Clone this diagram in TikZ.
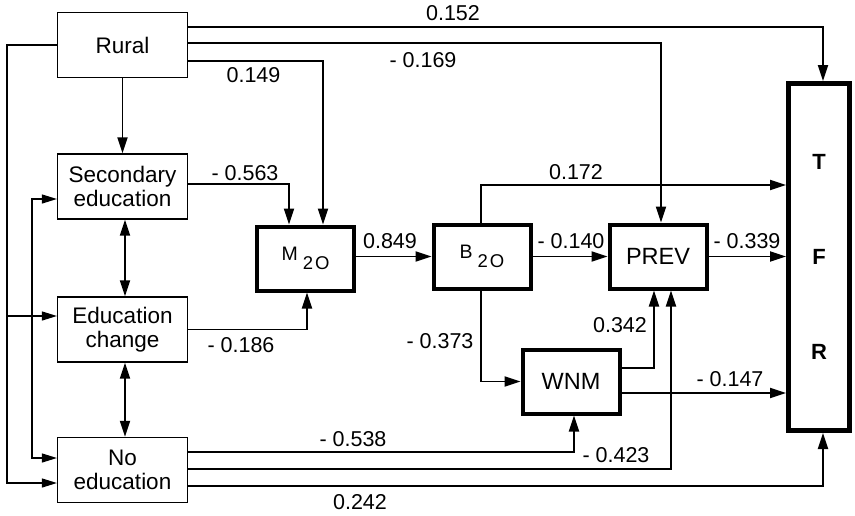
\documentclass[tikz,border=0pt]{standalone}
\usepackage{fontspec}
\setmainfont{Liberation Sans}
\usetikzlibrary{arrows.meta,calc}
\begin{document}
\begin{tikzpicture}[x=1pt,y=-1pt,
  font=\fontsize{21.5}{24}\selectfont,
  thinbox/.style={draw,line width=1.2pt,inner sep=0pt,minimum width=130pt,minimum height=65pt,align=center,font=\fontsize{22.5}{24}\selectfont},
  thickbox/.style={draw,line width=4pt,inner sep=0pt,minimum width=97pt,minimum height=64pt,align=center,font=\fontsize{23.5}{24}\selectfont},
  tfrbox/.style={draw,line width=5pt,inner sep=0pt,minimum width=61pt,minimum height=347pt,align=center,font=\fontsize{22}{95}\selectfont\bfseries},
  arr/.style={line width=1.8pt,-{Triangle[length=16pt,width=10pt]}},
  arrb/.style={line width=1.8pt,{Triangle[length=16pt,width=10pt]}-{Triangle[length=16pt,width=10pt]}},
  arrthin/.style={line width=1.2pt,-{Triangle[length=15pt,width=9pt]}},
  arrthinb/.style={line width=1.2pt,{Triangle[length=15pt,width=9pt]}-{Triangle[length=15pt,width=9pt]}},
  lab/.style={inner sep=0pt}
]
\useasboundingbox (0,0) rectangle (855,515);
\newcommand{\subtwoO}[1]{{\fontsize{19.5}{20}\selectfont #1\hspace{5pt}\raisebox{-8.5pt}{\fontsize{18.5}{20}\selectfont 2\hspace{2pt}O}}}

% nodes
\node[thinbox] (rural) at (122.5,45) {Rural};
\node[thinbox] (sec) at (122.5,186.5) {Secondary\\education};
\node[thinbox] (edu) at (122.5,329.5) {Education\\change};
\node[thinbox] (noed) at (122.5,470) {No\\education};
\node[thickbox] (m2o) at (305.5,258.5) {\subtwoO{M}};
\node[thickbox] (b2o) at (482,256.5) {\subtwoO{B}};
\node[thickbox] (prev) at (658,256.5) {PREV};
\node[thickbox] (wnm) at (571,381.5) {WNM};
\node[tfrbox] (tfr) at (819,257) {T\\F\\R};

% helper coordinates
\coordinate (xo) at (7,0);
\coordinate (xi) at (32,0);
\coordinate (noedA) at ([yshift=-13pt]noed.west);
\coordinate (eduA) at ([yshift=13.5pt]edu.west);
\coordinate (secA) at ([yshift=-12.5pt]sec.west);
\coordinate (noedB) at ([yshift=12pt]noed.west);
\coordinate (wA) at ([yshift=-11.5pt]wnm.east);

% connectors from Rural
\draw[arr] ([yshift=18pt]rural.east) -| ([xshift=4pt]tfr.north);
\draw[arr] ([yshift=2pt]rural.east) -| ([xshift=3pt]prev.north);
\draw[arr] ([yshift=-16pt]rural.east) -| ([xshift=17.5pt]m2o.north);
\draw[arr] (rural.south) -- (sec.north);

% education block
\draw[arr] ([yshift=2.5pt]sec.east) -| ([xshift=-16.5pt]m2o.north);
\draw[arr] (edu.east) -| ([xshift=1.5pt]m2o.south);
\draw[arrb] ([xshift=2.5pt]sec.south) -- ([xshift=2.5pt]edu.north);
\draw[arrb] ([xshift=2.5pt]edu.south) -- ([xshift=2.5pt]noed.north);

% left lines
\draw[arrthin] (rural.west) -- (xo |- rural.west) |- (noedA);
\draw[arrthin] (xo |- eduA) -- (eduA);
\draw[arrthinb] (secA) -- (xi |- secA) -- (xi |- noedB) -- (noedB);

% middle
\draw[arr] (m2o.east |- b2o.west) -- (b2o.west);
\draw[arr] (b2o.east) -- (prev.west);
\draw[arr] (prev.east) -- (tfr.west |- prev.east);
\draw[arr] ([xshift=-1pt]b2o.north) |- ([yshift=72pt]tfr.west);
\draw[arr] ([xshift=-1pt]b2o.south) |- (wnm.west);
\draw[arr] ([yshift=13.5pt]wnm.east) -| ([xshift=-4pt]prev.south);
\draw[arr] (wA) -- (tfr.west |- wA);

% from No education
\draw[arr] ([yshift=18pt]noed.east) -| ([xshift=3pt]wnm.south);
\draw[arr] ([yshift=1pt]noed.east) -| ([xshift=13pt]prev.south);
\draw[arr] ([yshift=-16pt]noed.east) -| ([xshift=4pt]tfr.south);

% labels
\node[lab] (l1) at (453,13) {0.152};
\node[lab] (l2) at (423,60) {- 0.169};
\node[lab] (l3) at (253.5,75.5) {0.149};
\node[lab] (l4) at (245,173) {- 0.563};
\node[lab] (l5) at (390,241) {0.849};
\node[lab] (l6) at (241,345) {- 0.186};
\node[lab] (l7) at (571,241) {- 0.140};
\node[lab] (l8) at (747,241) {- 0.339};
\node[lab] (l9) at (576,172) {0.172};
\node[lab] (l10) at (440,341) {- 0.373};
\node[lab] (l11) at (620,325) {0.342};
\node[lab] (l12) at (730,379.5) {- 0.147};
\node[lab] (l13) at (353,439) {- 0.538};
\node[lab] (l14) at (616,455) {- 0.423};
\node[lab] (l15) at (360,502.5) {0.242};
\end{tikzpicture}
\end{document}
